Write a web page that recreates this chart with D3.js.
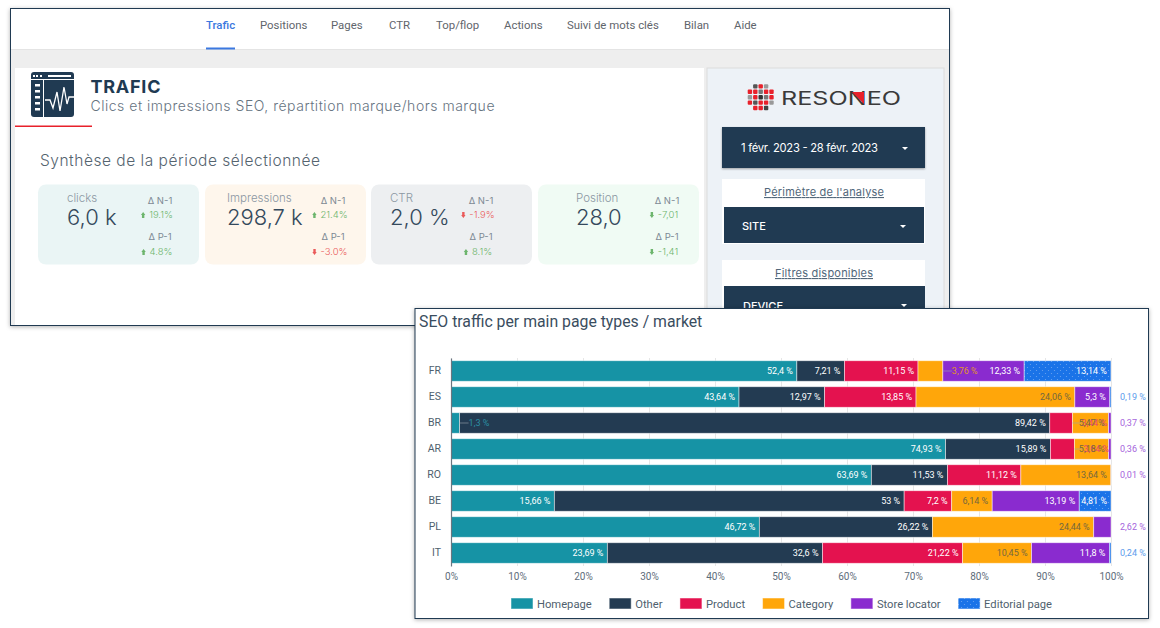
<!DOCTYPE html>
<html>
<head>
<meta charset="utf-8">
<script src="https://cdn.jsdelivr.net/npm/d3@7"></script>
<style>
  body { margin: 0; background: #fff; }
  svg { display: block; }
  text { font-family: Roboto, sans-serif; }
  .wide text, text.wide { font-family: Inter, sans-serif; }
</style>
</head>
<body>
<div id="chart"></div>
<script>
// chart values
const markets = ["FR", "ES", "BR", "AR", "RO", "BE", "PL", "IT"];
const homepage = [52.4, 43.64, 1.3, 74.93, 63.69, 15.66, 46.72, 23.69];
const other = [7.21, 12.97, 89.42, 15.89, 11.53, 53, 26.22, 32.6];
const product = [11.15, 13.85, 3.44, 3.64, 11.12, 7.2, 0, 21.22];
const category = [3.76, 24.06, 5.47, 5.18, 13.64, 6.14, 24.44, 10.45];
const storeLocator = [12.33, 5.3, 0.37, 0.36, 0.01, 13.19, 2.62, 11.8];
const editorial = [13.14, 0.19, 0, 0, 0, 4.81, 0, 0.24];

const seriesNames = ["Homepage", "Other", "Product", "Category", "Store locator", "Editorial page"];
const seriesValues = [homepage, other, product, category, storeLocator, editorial];
const seriesColors = ["#1693a5", "#233b52", "#e4124f", "#ffa60a", "#8a2bcf", "#1a73e8"];
const smallLabelColors = ["#2b8fa3", "#233b52", "#e8456f", "#e0962a", "#a565dc", "#5c9cec"];
const xTicks = [0, 10, 20, 30, 40, 50, 60, 70, 80, 90, 100];

// dashboard header values
const navItems = ["Trafic", "Positions", "Pages", "CTR", "Top/flop", "Actions", "Suivi de mots clés", "Bilan", "Aide"];
const kpiNames = ["clicks", "Impressions", "CTR", "Position"];
const kpiValues = ["6,0 k", "298,7 k", "2,0 %", "28,0"];
const kpiYear = ["19.1%", "21.4%", "-1.9%", "-7,01"];
const kpiPeriod = ["4.8%", "-3.0%", "8.1%", "-1,41"];
const kpiYearGood = [true, true, false, true];
const kpiPeriodGood = [true, false, true, true];

const navy = "#203a52";
const svg = d3.select("#chart").append("svg").attr("width", 1160).attr("height", 628);

const defs = svg.append("defs");
const dots = defs.append("pattern")
  .attr("id", "dots").attr("width", 6).attr("height", 6)
  .attr("patternUnits", "userSpaceOnUse");
dots.append("rect").attr("width", 6).attr("height", 6).attr("fill", seriesColors[5]);
dots.append("circle").attr("cx", 1.5).attr("cy", 1.5).attr("r", 0.6).attr("fill", "#6ea6ef");
dots.append("circle").attr("cx", 4.5).attr("cy", 4.5).attr("r", 0.6).attr("fill", "#6ea6ef");

function rect(parent, x0, y0, x1, y1, fill) {
  return parent.append("rect")
    .attr("x", x0).attr("y", y0)
    .attr("width", x1 - x0).attr("height", y1 - y0)
    .attr("fill", fill);
}

function label(parent, x, y, str, size, color, anchor) {
  return parent.append("text")
    .attr("x", x).attr("y", y)
    .attr("font-size", size)
    .attr("fill", color)
    .attr("text-anchor", anchor || "start")
    .text(str);
}

function caret(parent, x, y) {
  parent.append("path")
    .attr("d", d3.line()([[x - 3, y], [x + 3, y], [x, y + 3]]))
    .attr("fill", "#fff");
}

// TOP PANEL
const topPanel = svg.append("g");
rect(topPanel, 10.5, 8.5, 949.5, 325.5, "#eeeeee")
  .attr("stroke", navy).style("filter", "drop-shadow(0 1px 2px rgba(0,0,0,.3))");
rect(topPanel, 11, 9, 949, 49, "#fff");
rect(topPanel, 11, 49, 949, 50, "#e4e4e4");

const navX = [206, 260, 331, 389, 436, 504, 567, 684, 734];
navItems.forEach((d, i) => {
  label(topPanel, navX[i], 29, d, 11.4, i === 0 ? "#3b78e0" : "#5f656c").attr("font-weight", i === 0 ? 500 : 400);
});
rect(topPanel, 206, 47.5, 235, 49.5, "#3b78e0");

rect(topPanel, 15, 68, 704, 325, "#fff");

// window icon
const icon = topPanel.append("g");
rect(icon, 31, 72, 74, 117, navy).attr("rx", 3);
rect(icon, 33, 75, 35, 77, "#fff");
[36, 40].forEach(x => rect(icon, x, 75, x + 2, 77, "#fff"));
rect(icon, 48, 75, 71, 77, "#fff");
rect(icon, 31, 79, 74, 80, "#fff");
rect(icon, 43, 80, 44, 117, "#fff");
[84, 90, 96, 102, 108].forEach(y => rect(icon, 35, y, 40, y + 2.5, "#fff"));
icon.append("path")
  .attr("d", d3.line()([[45, 100], [50, 100], [53, 108], [57, 92], [60, 111], [64, 87], [67, 104], [69, 97], [74, 97]]))
  .attr("fill", "none").attr("stroke", "#fff").attr("stroke-width", 1.3);
rect(topPanel, 15, 125.5, 92, 127, "#e8212b");

const header = topPanel.append("g").attr("class", "wide");
label(header, 90.5, 93, "TRAFIC", 18, navy).attr("font-weight", 700).attr("textLength", 70);
label(header, 90.5, 111, "Clics et impressions SEO, répartition marque/hors marque", 14, "#66737f")
  .attr("font-weight", 300).attr("textLength", 404);
label(header, 40, 166, "Synthèse de la période sélectionnée", 15.5, "#55646f")
  .attr("font-weight", 300).attr("textLength", 280);

// KPI cards
const cardX = [38, 205, 371, 538];
const cardFill = ["#eaf5f5", "#fef6ec", "#edeff1", "#f0fbf4"];
const nameX = [67, 227, 390, 576];
const deltaX = [160, 333, 481, 667];
const good = "#6db56d";
const bad = "#ea5a5a";

function delta(parent, x, y, str, isGood, isDown) {
  const color = isGood ? good : bad;
  const g = parent.append("g");
  const t = label(g, x + 1, y, str, 9.5, color, "middle").attr("font-weight", 300);
  const ax = x + 1 - t.node().getComputedTextLength() / 2 - 6;
  const tip = isDown ? y : y - 6;
  const base = isDown ? y - 6 : y;
  g.append("path")
    .attr("d", d3.line()([[ax - 1.2, base], [ax + 1.2, base], [ax + 1.2, y - 3], [ax + 2.2, y - 3], [ax, tip], [ax - 2.2, y - 3], [ax - 1.2, y - 3]]))
    .attr("fill", color);
}

kpiNames.forEach((d, i) => {
  const g = topPanel.append("g").attr("class", "wide");
  rect(g, cardX[i], 184.5, cardX[i] + 161, 264.5, cardFill[i]).attr("rx", 8);
  label(g, nameX[i], 202, d, 11.5, "#8b97a2").attr("font-weight", 300);
  label(g, nameX[i], 225, kpiValues[i], 22, "#34495c").attr("font-weight", 300);
  label(g, deltaX[i], 204, "Δ N-1", 9.5, "#7d8994", "middle");
  delta(g, deltaX[i], 218, kpiYear[i], kpiYearGood[i], kpiYear[i].startsWith("-"));
  label(g, deltaX[i], 240, "Δ P-1", 9.5, "#7d8994", "middle");
  delta(g, deltaX[i], 255, kpiPeriod[i], kpiPeriodGood[i], kpiPeriod[i].startsWith("-"));
});

// sidebar
const side = topPanel.append("g").attr("class", "wide");
rect(side, 707, 68, 944, 325, "#edf2f7").attr("stroke", "#dcdcdc");
const logoCells = [
  [0, -2, "#e8212b"], [-1, -2, "#555"], [1, -2, "#999"],
  [-2, -1, "#e8212b"], [-1, -1, "#e8212b"], [0, -1, "#777"], [1, -1, "#e8212b"], [2, -1, "#e8212b"],
  [-2, 0, "#999"], [-1, 0, "#e8212b"], [0, 0, "#333"], [1, 0, "#777"], [2, 0, "#e8212b"],
  [-2, 1, "#e8212b"], [-1, 1, "#555"], [0, 1, "#e8212b"], [1, 1, "#e8212b"], [2, 1, "#999"],
  [-1, 2, "#e8212b"], [0, 2, "#e8212b"], [1, 2, "#444"]
];
side.selectAll(".logo").data(logoCells).join("rect")
  .attr("class", "logo")
  .attr("x", d => 758.5 + d[0] * 5.4).attr("y", d => 95 + d[1] * 5.4)
  .attr("width", 4.4).attr("height", 4.4)
  .attr("rx", 1)
  .attr("fill", d => d[2]);
label(side, 781, 105, "RESONEO", 18, "#3a3a3a")
  .attr("textLength", 120).attr("lengthAdjust", "spacingAndGlyphs");
side.append("path").attr("d", d3.line()([[852, 92], [864, 92], [864, 104]])).attr("fill", "#e8212b");

rect(side, 722, 127, 925, 168, navy).style("filter", "drop-shadow(0 1px 1px rgba(0,0,0,.35))");
label(side, 741, 152, "1 févr. 2023 - 28 févr. 2023", 11.2, "#fff").attr("textLength", 137);
caret(side, 905, 147);

rect(side, 722, 179, 925, 244, "#fff");
label(side, 824, 196, "Périmètre de l'analyse", 11, "#51677a", "middle")
  .attr("text-decoration", "underline").attr("textLength", 120);
rect(side, 724, 207, 924, 243, navy);
label(side, 742, 230, "SITE", 11, "#fff").attr("font-weight", 500);
caret(side, 903, 225);

rect(side, 722, 260, 925, 325, "#fff");
label(side, 824, 277, "Filtres disponibles", 11, "#51677a", "middle")
  .attr("text-decoration", "underline").attr("textLength", 98);
rect(side, 724, 286, 925, 325, navy);
label(side, 743, 310, "DEVICE", 11, "#fff").attr("font-weight", 500);
caret(side, 904, 304);

// BAR CHART PANEL
const panel = svg.append("g");
rect(panel, 415, 308.5, 1148.5, 618.5, "#fff")
  .attr("stroke", navy).style("filter", "drop-shadow(0 1px 2px rgba(0,0,0,.3))");
label(panel, 419, 327, "SEO traffic per main page types / market", 15.8, "#3a4d60");

const x = d3.scaleLinear().domain([0, 100]).range([451, 1111]);
const y = d3.scaleBand().domain(markets).range([358, 566]).paddingInner(0.21).paddingOuter(0.105);

const rows = markets.map((m, i) => {
  const row = { market: m };
  seriesNames.forEach((s, j) => { row[s] = seriesValues[j][i]; });
  return row;
});
const stacked = d3.stack().keys(seriesNames)(rows);

panel.append("g")
  .attr("transform", "translate(0,566)")
  .call(d3.axisBottom(x).tickValues(xTicks).tickFormat(d => `${d}%`).tickSize(-208).tickPadding(7))
  .call(g => g.select(".domain").remove())
  .call(g => g.selectAll("line").attr("stroke", "#e6e6e6"))
  .call(g => g.selectAll("text").attr("fill", "#5e6d7b").attr("font-size", 10).attr("font-family", "Roboto, sans-serif"));

const layers = panel.selectAll(".layer")
  .data(stacked)
  .join("g")
  .attr("class", "layer");

layers.selectAll("rect")
  .data(d => d.filter(p => p[1] > p[0]))
  .join("rect")
  .attr("x", d => x(d[0]))
  .attr("y", d => y(d.data.market))
  .attr("width", d => x(d[1]) - x(d[0]))
  .attr("height", y.bandwidth())
  .attr("fill", function(d) {
    const key = d3.select(this.parentNode).datum().key;
    return key === "Editorial page" ? "url(#dots)" : seriesColors[seriesNames.indexOf(key)];
  })
  .attr("stroke", "#fff").attr("stroke-opacity", 0.6).attr("stroke-width", 0.8);

panel.append("g")
  .attr("transform", "translate(451,0)")
  .call(d3.axisLeft(y).tickSize(0).tickPadding(10))
  .call(g => g.select(".domain").attr("stroke", "#6b7680").attr("stroke-width", 1.2))
  .call(g => g.selectAll("text").attr("fill", "#4f5f6e").attr("font-size", 10.5).attr("font-family", "Roboto, sans-serif"));

// data labels: inside when they fit, with a leader when not, in the margin for a thin last segment
const insideColors = ["#fff", "#fff", "#fff", "#75683f", "#fff", "#fff"];
const fr = d => `${String(d).replace(".", ",")} %`;

stacked.forEach((layer, s) => {
  layer.forEach((p, i) => {
    const v = seriesValues[s][i];
    if (!v) return;
    const cy = y(markets[i]) + y.bandwidth() / 2 + 3.3;
    const x1 = x(p[1]);
    const wide = x1 - x(p[0]) >= 30;
    const isLast = seriesValues.slice(s + 1).every(vals => !vals[i]);
    if (wide) {
      label(panel, x1 - 4, cy, fr(v), 9, insideColors[s], "end");
    } else if (isLast) {
      label(panel, 1120, cy, fr(v), 9, smallLabelColors[s]);
    } else {
      rect(panel, x1, cy - 3.6, x1 + 9, cy - 3, "#9aa3ab");
      label(panel, x1 + 9, cy, fr(v), 9, smallLabelColors[s]);
    }
  });
});

// legend
let legendX = 511;
seriesNames.forEach((name, i) => {
  rect(panel, legendX, 598, legendX + 22, 609, i === 5 ? "url(#dots)" : seriesColors[i])
    .attr("stroke", "#fff").attr("stroke-opacity", 0.5);
  const t = label(panel, legendX + 26, 608, name, 11.2, "#4f5f6e");
  legendX += 26 + t.node().getComputedTextLength() + 17.5;
});
</script>
</body>
</html>
